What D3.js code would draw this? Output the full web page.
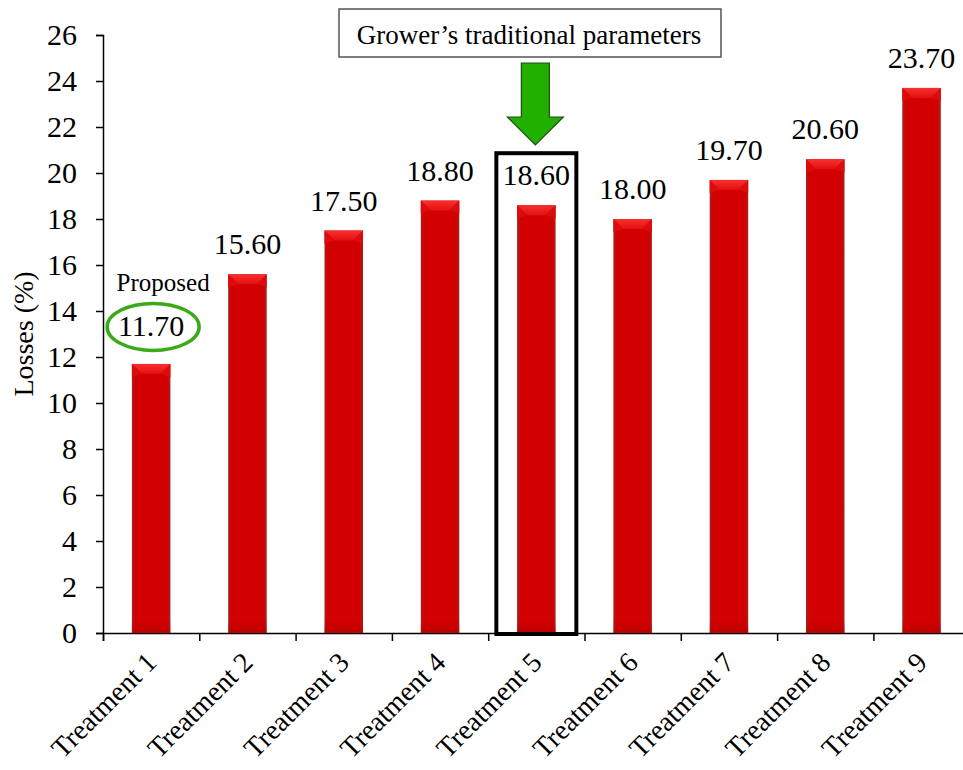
<!DOCTYPE html>
<html>
<head>
<meta charset="utf-8">
<script src="https://cdn.jsdelivr.net/npm/d3@7/dist/d3.min.js"></script>
<style>
  html, body { margin: 0; padding: 0; background: #fff; }
  svg { display: block; font-family: "Liberation Serif", "Times New Roman", serif; }
</style>
</head>
<body>
<svg id="chart" width="963" height="770"></svg>
<script>
// Losses per treatment (%)
const categories = ["Treatment 1", "Treatment 2", "Treatment 3", "Treatment 4", "Treatment 5",
                    "Treatment 6", "Treatment 7", "Treatment 8", "Treatment 9"];
const losses = [11.70, 15.60, 17.50, 18.80, 18.60, 18.00, 19.70, 20.60, 23.70];
const yTicks = [0, 2, 4, 6, 8, 10, 12, 14, 16, 18, 20, 22, 24, 26];
const yTitle = "Losses (%)";
const proposedIndex = 0;
const traditionalIndex = 4;
const proposedText = "Proposed";
const traditionalText = "Grower\u2019s traditional parameters";

const svg = d3.select("#chart");
const plot = { left: 103, right: 103 + 9 * 96.3, top: 35, bottom: 633 };

const y = d3.scaleLinear().domain([0, 26]).range([plot.bottom, plot.top]);
const x = d3.scaleBand().domain(categories).range([plot.left, plot.right])
  .paddingInner(0.6).paddingOuter(0.3);
// category boundaries for the x ticks
const xEdge = d3.scaleLinear().domain([0, categories.length]).range([plot.left, plot.right]);

// gradients for the bevelled bars
const defs = svg.append("defs");
const side = defs.append("linearGradient").attr("id", "barSide").attr("x1", 0).attr("x2", 1).attr("y1", 0).attr("y2", 0);
side.append("stop").attr("offset", "0%").attr("stop-color", "#a82020");
side.append("stop").attr("offset", "9%").attr("stop-color", "#d20000");
side.append("stop").attr("offset", "91%").attr("stop-color", "#d20000");
side.append("stop").attr("offset", "100%").attr("stop-color", "#a82020");
const base = defs.append("linearGradient").attr("id", "barBase").attr("x1", 0).attr("x2", 0).attr("y1", 0).attr("y2", 1);
base.append("stop").attr("offset", "0%").attr("stop-color", "#c00000").attr("stop-opacity", 0);
base.append("stop").attr("offset", "100%").attr("stop-color", "#a00000").attr("stop-opacity", 0.5);
const cap = defs.append("linearGradient").attr("id", "barCap").attr("x1", 0).attr("x2", 0).attr("y1", 0).attr("y2", 1);
cap.append("stop").attr("offset", "0%").attr("stop-color", "#f83030");
cap.append("stop").attr("offset", "100%").attr("stop-color", "#e41010");

// y axis
const yAxis = d3.axisLeft(y).tickValues(yTicks).tickFormat(d3.format("d")).tickSize(7).tickPadding(19);
const gy = svg.append("g").attr("transform", `translate(${plot.left},0)`).call(yAxis);
gy.select(".domain").attr("stroke", "#000").attr("stroke-width", 1.5);
gy.selectAll(".tick line").attr("stroke", "#000").attr("stroke-width", 1.5);
gy.selectAll(".tick text").attr("font-family", "Liberation Serif").attr("font-size", 30).attr("fill", "#000");

// x axis: ticks on category boundaries, labels rotated under each bar
const xAxis = d3.axisBottom(xEdge).tickValues(d3.range(categories.length + 1)).tickSize(8).tickFormat("");
const gx = svg.append("g").attr("transform", `translate(0,${plot.bottom})`).call(xAxis);
gx.select(".domain").attr("stroke", "#000").attr("stroke-width", 1.5);
gx.selectAll(".tick line").attr("stroke", "#000").attr("stroke-width", 1.5);

svg.append("g").selectAll("text").data(categories).join("text")
  .attr("transform", d => `translate(${x(d) + x.bandwidth() / 2 + 7},${plot.bottom + 31}) rotate(-45)`)
  .attr("text-anchor", "end")
  .attr("font-size", 28)
  .text(d => d);

// bars
const bars = svg.append("g").selectAll("g").data(losses).join("g");
bars.append("rect")
  .attr("x", (d, i) => x(categories[i]))
  .attr("y", d => y(d))
  .attr("width", x.bandwidth())
  .attr("height", d => y(0) - y(d))
  .attr("fill", "url(#barSide)");
bars.append("rect")
  .attr("x", (d, i) => x(categories[i]))
  .attr("y", plot.bottom - 14)
  .attr("width", x.bandwidth())
  .attr("height", 14)
  .attr("fill", "url(#barBase)");
// light bevelled cap
bars.append("path")
  .attr("d", (d, i) => {
    const x0 = x(categories[i]), x1 = x0 + x.bandwidth(), t = y(d), b = 10;
    return `M${x0},${t}L${x1},${t}L${x1 - b},${t + b}L${x0 + b},${t + b}Z`;
  })
  .attr("fill", "url(#barCap)");
bars.append("path")
  .attr("d", (d, i) => {
    const x0 = x(categories[i]), x1 = x0 + x.bandwidth(), t = y(d), b = 10;
    return `M${x0},${t}L${x0 + b},${t + b}L${x0},${t + b + 3}Z M${x1},${t}L${x1 - b},${t + b}L${x1},${t + b + 3}Z`;
  })
  .attr("fill", "#dc0c0c");

// value labels
const labelOffset = losses.map((d, i) => i === proposedIndex ? 28 : 20);
svg.append("g").selectAll("text").data(losses).join("text")
  .attr("x", (d, i) => x(categories[i]) + x.bandwidth() / 2)
  .attr("y", (d, i) => y(d) - labelOffset[i])
  .attr("text-anchor", "middle")
  .attr("font-size", 30)
  .text(d => d.toFixed(2));

// y axis title
svg.append("text")
  .attr("transform", `translate(33,334) rotate(-90)`)
  .attr("text-anchor", "middle")
  .attr("font-size", 28)
  .text(yTitle);

// "Proposed" highlight
const pcx = x(categories[proposedIndex]) + x.bandwidth() / 2;
const pLabelY = y(losses[proposedIndex]) - labelOffset[proposedIndex];
svg.append("ellipse")
  .attr("cx", pcx + 2).attr("cy", pLabelY - 9)
  .attr("rx", 46).attr("ry", 23.5)
  .attr("fill", "none").attr("stroke", "#3aaa18").attr("stroke-width", 3.5);
svg.append("text")
  .attr("x", pcx + 12).attr("y", pLabelY - 45)
  .attr("text-anchor", "middle")
  .attr("font-size", 25)
  .text(proposedText);

// traditional parameters highlight
const tcx = x(categories[traditionalIndex]) + x.bandwidth() / 2;
svg.append("rect")
  .attr("x", tcx - 40).attr("y", y(losses[traditionalIndex]) - 52)
  .attr("width", 80).attr("height", plot.bottom + 1 - (y(losses[traditionalIndex]) - 52))
  .attr("fill", "none").attr("stroke", "#000").attr("stroke-width", 4);

svg.append("rect")
  .attr("x", 339).attr("y", 9).attr("width", 382).attr("height", 48)
  .attr("fill", "#fff").attr("stroke", "#555").attr("stroke-width", 1.5);
svg.append("text")
  .attr("x", 529).attr("y", 44)
  .attr("text-anchor", "middle")
  .attr("font-size", 27)
  .text(traditionalText);

// green arrow pointing down at the traditional treatment
const ax = tcx - 1;
svg.append("path")
  .attr("d", `M${ax - 14},63 L${ax + 14},63 L${ax + 14},117 L${ax + 28},117 L${ax},145 L${ax - 28},117 L${ax - 14},117 Z`)
  .attr("fill", "#22b000").attr("stroke", "#1f4f10").attr("stroke-width", 1.2);
</script>
</body>
</html>
